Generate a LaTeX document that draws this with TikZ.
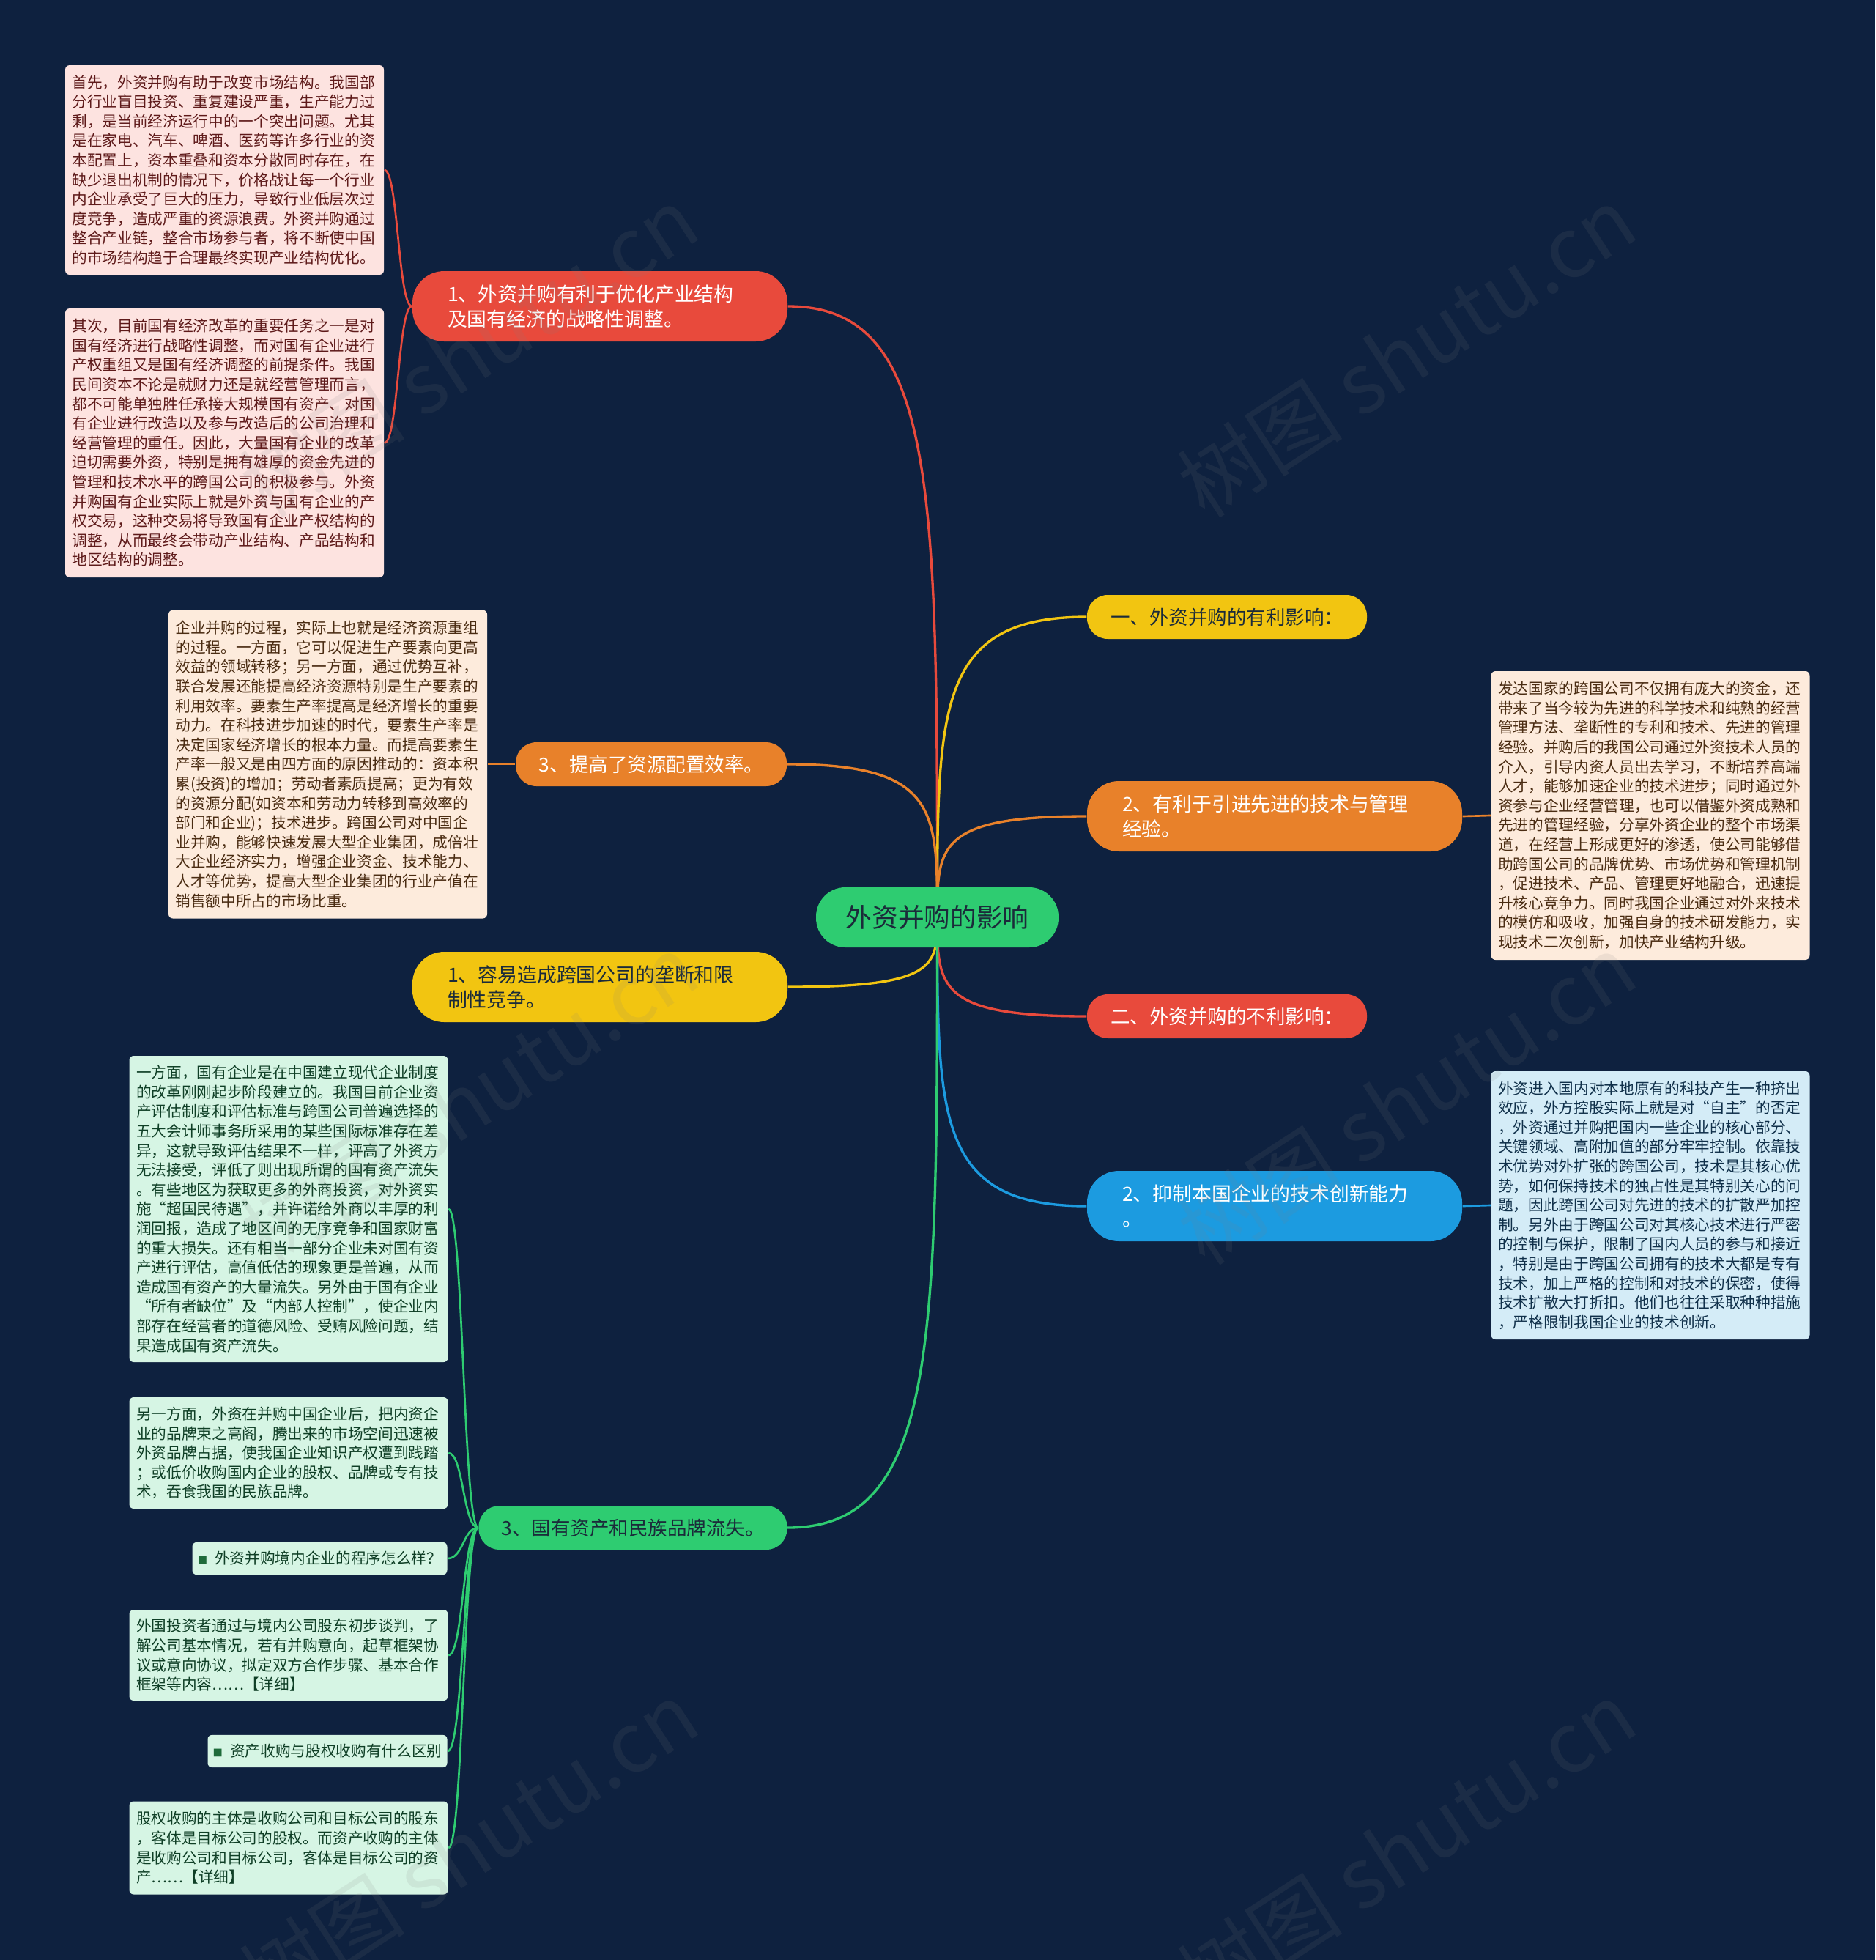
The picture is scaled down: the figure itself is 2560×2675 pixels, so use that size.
\documentclass[tikz,border=0pt]{standalone}
\usepackage{fontspec}
\setmainfont{Noto Sans CJK SC}
\usetikzlibrary{calc}
\pgfdeclarelayer{bg}
\pgfdeclarelayer{lines}
\pgfsetlayers{bg,lines,main}
\definecolor{bgcol}{HTML}{0E213F}
\definecolor{cred}{HTML}{E84A3C}
\definecolor{cyel}{HTML}{F2C511}
\definecolor{cora}{HTML}{E8812A}
\definecolor{cblu}{HTML}{1C9BE0}
\definecolor{cgrn}{HTML}{2ECC71}
\definecolor{darktext}{HTML}{1B2B3A}
\definecolor{pinkfill}{HTML}{FDE3E0}
\definecolor{pinktext}{HTML}{5E1A1A}
\definecolor{peachfill}{HTML}{FDEBDC}
\definecolor{peachtext}{HTML}{4A2C12}
\definecolor{bluefill}{HTML}{D4ECF7}
\definecolor{bluetext}{HTML}{10304A}
\definecolor{greenfill}{HTML}{D6F5E4}
\definecolor{greentext}{HTML}{0F3F26}
\definecolor{bulletgreen}{HTML}{1E6B3A}
\begin{document}
\begin{tikzpicture}[x=0.3pt,y=-0.3pt,
  leaf/.style={rectangle, rounded corners=1.8pt, align=left, text width=124.8pt,
    inner xsep=2.85pt, inner ysep=0pt, font=\fontsize{6.2pt}{7.98pt}\selectfont},
  pinkleaf/.style={leaf, fill=pinkfill, text=pinktext},
  peachleaf/.style={leaf, fill=peachfill, text=peachtext},
  blueleaf/.style={leaf, fill=bluefill, text=bluetext},
  greenleaf/.style={leaf, fill=greenfill, text=greentext},
  smallleaf/.style={rectangle, rounded corners=1.8pt, align=center, inner sep=0pt,
    fill=greenfill, text=greentext, minimum height=13.3pt, font=\fontsize{6.2pt}{7.98pt}\selectfont},
  twoline/.style={rectangle, rounded corners=13pt, align=left, text width=124.8pt,
    inner xsep=14.4pt, inner ysep=0pt, minimum height=28.8pt, font=\fontsize{8.05pt}{10.2pt}\selectfont},
  oneline/.style={rectangle, rounded corners=8.5pt, align=center, inner sep=0pt,
    minimum height=18pt, font=\fontsize{7.95pt}{10.2pt}\selectfont},
  rootbox/.style={rectangle, rounded corners=12pt, fill=cgrn, text=darktext, inner sep=0pt,
    minimum width=99.3pt, minimum height=24.6pt, font=\fontsize{10.7pt}{12pt}\selectfont},
  conn/.style={line width=1pt},
  leafconn/.style={line width=0.8pt},
  wmark/.style={text=gray, opacity=0.12, rotate=33, font=\fontsize{34pt}{36pt}\selectfont}
]
\begin{pgfonlayer}{bg}
\fill[bgcol] (0,0) rectangle (2560,2675);
\end{pgfonlayer}
\useasboundingbox (0,0) rectangle (2560,2675);

% root
\node[rootbox] (root) at (1279.5,1252) {外资并购的影响};

% branches
\node[twoline, fill=cred, text=white] (b1) at (819,418) {1、外资并购有利于优化产业结构\\及国有经济的战略性调整。};
\node[oneline, fill=cyel, text=darktext, minimum width=114.6pt] (y1) at (1675,842) {一、外资并购的有利影响：};
\node[oneline, fill=cora, text=white, minimum width=111pt] (o1) at (889,1043) {3、提高了资源配置效率。};
\node[twoline, fill=cora, text=white] (o2) at (1740,1114) {2、有利于引进先进的技术与管理\\经验。};
\node[twoline, fill=cyel, text=darktext] (y2) at (819,1347) {1、容易造成跨国公司的垄断和限\\制性竞争。};
\node[oneline, fill=cred, text=white, minimum width=114.6pt] (r2) at (1675,1387) {二、外资并购的不利影响：};
\node[twoline, fill=cblu, text=white] (bl) at (1740,1646) {2、抑制本国企业的技术创新能力\\。};
\node[oneline, fill=cgrn, text=darktext, minimum width=126.3pt] (g) at (864,2085) {3、国有资产和民族品牌流失。};

% leaves
\node[pinkleaf, minimum height=85.8pt] (p1) at (306.5,232) {首先，外资并购有助于改变市场结构。我国部\\分行业盲目投资、重复建设严重，生产能力过\\剩，是当前经济运行中的一个突出问题。尤其\\是在家电、汽车、啤酒、医药等许多行业的资\\本配置上，资本重叠和资本分散同时存在，在\\缺少退出机制的情况下，价格战让每一个行业\\内企业承受了巨大的压力，导致行业低层次过\\度竞争，造成严重的资源浪费。外资并购通过\\整合产业链，整合市场参与者，将不断使中国\\的市场结构趋于合理最终实现产业结构优化。};
\node[pinkleaf, minimum height=110.1pt] (p2) at (306.5,604.5) {其次，目前国有经济改革的重要任务之一是对\\国有经济进行战略性调整，而对国有企业进行\\产权重组又是国有经济调整的前提条件。我国\\民间资本不论是就财力还是就经营管理而言，\\都不可能单独胜任承接大规模国有资产、对国\\有企业进行改造以及参与改造后的公司治理和\\经营管理的重任。因此，大量国有企业的改革\\迫切需要外资，特别是拥有雄厚的资金先进的\\管理和技术水平的跨国公司的积极参与。外资\\并购国有企业实际上就是外资与国有企业的产\\权交易，这种交易将导致国有企业产权结构的\\调整，从而最终会带动产业结构、产品结构和\\地区结构的调整。};
\node[peachleaf, minimum height=126.3pt] (pe) at (447.5,1043) {企业并购的过程，实际上也就是经济资源重组\\的过程。一方面，它可以促进生产要素向更高\\效益的领域转移；另一方面，通过优势互补，\\联合发展还能提高经济资源特别是生产要素的\\利用效率。要素生产率提高是经济增长的重要\\动力。在科技进步加速的时代，要素生产率是\\决定国家经济增长的根本力量。而提高要素生\\产率一般又是由四方面的原因推动的：资本积\\累(投资)的增加；劳动者素质提高；更为有效\\的资源分配(如资本和劳动力转移到高效率的\\部门和企业)；技术进步。跨国公司对中国企\\业并购，能够快速发展大型企业集团，成倍壮\\大企业经济实力，增强企业资金、技术能力、\\人才等优势，提高大型企业集团的行业产值在\\销售额中所占的市场比重。};
\node[peachleaf, minimum height=118.2pt] (rp) at (2253,1113) {发达国家的跨国公司不仅拥有庞大的资金，还\\带来了当今较为先进的科学技术和纯熟的经营\\管理方法、垄断性的专利和技术、先进的管理\\经验。并购后的我国公司通过外资技术人员的\\介入，引导内资人员出去学习，不断培养高端\\人才，能够加速企业的技术进步；同时通过外\\资参与企业经营管理，也可以借鉴外资成熟和\\先进的管理经验，分享外资企业的整个市场渠\\道，在经营上形成更好的渗透，使公司能够借\\助跨国公司的品牌优势、市场优势和管理机制\\，促进技术、产品、管理更好地融合，迅速提\\升核心竞争力。同时我国企业通过对外来技术\\的模仿和吸收，加强自身的技术研发能力，实\\现技术二次创新，加快产业结构升级。};
\node[blueleaf, minimum height=109.8pt] (rb) at (2253,1645) {外资进入国内对本地原有的科技产生一种挤出\\效应，外方控股实际上就是对“自主”的否定\\，外资通过并购把国内一些企业的核心部分、\\关键领域、高附加值的部分牢牢控制。依靠技\\术优势对外扩张的跨国公司，技术是其核心优\\势，如何保持技术的独占性是其特别关心的问\\题，因此跨国公司对先进的技术的扩散严加控\\制。另外由于跨国公司对其核心技术进行严密\\的控制与保护，限制了国内人员的参与和接近\\，特别是由于跨国公司拥有的技术大都是专有\\技术，加上严格的控制和对技术的保密，使得\\技术扩散大打折扣。他们也往往采取种种措施\\，严格限制我国企业的技术创新。};
\node[greenleaf, minimum height=125.4pt] (g1) at (394,1650) {一方面，国有企业是在中国建立现代企业制度\\的改革刚刚起步阶段建立的。我国目前企业资\\产评估制度和评估标准与跨国公司普遍选择的\\五大会计师事务所采用的某些国际标准存在差\\异，这就导致评估结果不一样，评高了外资方\\无法接受，评低了则出现所谓的国有资产流失\\。有些地区为获取更多的外商投资，对外资实\\施“超国民待遇”，并许诺给外商以丰厚的利\\润回报，造成了地区间的无序竞争和国家财富\\的重大损失。还有相当一部分企业未对国有资\\产进行评估，高值低估的现象更是普遍，从而\\造成国有资产的大量流失。另外由于国有企业\\“所有者缺位”及“内部人控制”，使企业内\\部存在经营者的道德风险、受贿风险问题，结\\果造成国有资产流失。};
\node[greenleaf, minimum height=45.6pt] (g2) at (394,1983) {另一方面，外资在并购中国企业后，把内资企\\业的品牌束之高阁，腾出来的市场空间迅速被\\外资品牌占据，使我国企业知识产权遭到践踏\\；或低价收购国内企业的股权、品牌或专有技\\术，吞食我国的民族品牌。};
\node[smallleaf, minimum width=104.4pt] (s1) at (436.5,2127) {{\color{bulletgreen}\fontsize{4pt}{5pt}\selectfont ■}\hspace{3pt}外资并购境内企业的程序怎么样？};
\node[greenleaf, minimum height=37.2pt] (g3) at (394,2259) {外国投资者通过与境内公司股东初步谈判，了\\解公司基本情况，若有并购意向，起草框架协\\议或意向协议，拟定双方合作步骤、基本合作\\框架等内容……【详细】};
\node[smallleaf, minimum width=98.1pt] (s2) at (447,2390) {{\color{bulletgreen}\fontsize{4pt}{5pt}\selectfont ■}\hspace{3pt}资产收购与股权收购有什么区别};
\node[greenleaf, minimum height=38.1pt] (g4) at (394,2522) {股权收购的主体是收购公司和目标公司的股东\\，客体是目标公司的股权。而资产收购的主体\\是收购公司和目标公司，客体是目标公司的资\\产……【详细】};

% connectors
\begin{pgfonlayer}{lines}
\draw[conn, cred] (root.center) .. controls ($(root.center)!0.7!(root.center |- b1.east)$) and (root.center |- b1.east) .. (b1.east);
\draw[conn, cyel] (root.center) .. controls ($(root.center)!0.7!(root.center |- y1.west)$) and (root.center |- y1.west) .. (y1.west);
\draw[conn, cora] (root.center) .. controls ($(root.center)!0.7!(root.center |- o1.east)$) and (root.center |- o1.east) .. (o1.east);
\draw[conn, cora] (root.center) .. controls ($(root.center)!0.7!(root.center |- o2.west)$) and (root.center |- o2.west) .. (o2.west);
\draw[conn, cyel] (root.center) .. controls ($(root.center)!0.7!(root.center |- y2.east)$) and (root.center |- y2.east) .. (y2.east);
\draw[conn, cred] (root.center) .. controls ($(root.center)!0.7!(root.center |- r2.west)$) and (root.center |- r2.west) .. (r2.west);
\draw[conn, cblu] (root.center) .. controls ($(root.center)!0.7!(root.center |- bl.west)$) and (root.center |- bl.west) .. (bl.west);
\draw[conn, cgrn] (root.center) .. controls ($(root.center)!0.7!(root.center |- g.east)$) and (root.center |- g.east) .. (g.east);

\coordinate (jr) at ($(b1.west)!0.5!(p1.east)$);
\foreach \t in {p1,p2}
  \draw[leafconn, cred] (b1.west) .. controls (jr |- b1.west) and (jr |- \t.east) .. (\t.east);
\draw[leafconn, cora] (o1.west) -- (pe.east);
\draw[leafconn, cora] (o2.east) -- (rp.west);
\draw[leafconn, cblu] (bl.east) -- (rb.west);
\coordinate (jg) at ($(g.west)!0.5!(g1.east)$);
\foreach \t in {g1,g2,s1,g3,s2,g4}
  \draw[leafconn, cgrn] (g.west) .. controls (jg |- g.west) and (jg |- \t.east) .. (\t.east);
\end{pgfonlayer}

% watermarks
\node[wmark] (w1) at (640,480) {树图 shutu.cn};
\node[wmark] (w2) at (1920,480) {树图 shutu.cn};
\node[wmark] (w3) at (640,1500) {树图 shutu.cn};
\node[wmark] (w4) at (1920,1500) {树图 shutu.cn};
\node[wmark] (w5) at (640,2520) {树图 shutu.cn};
\node[wmark] (w6) at (1920,2520) {树图 shutu.cn};
\end{tikzpicture}
\end{document}
